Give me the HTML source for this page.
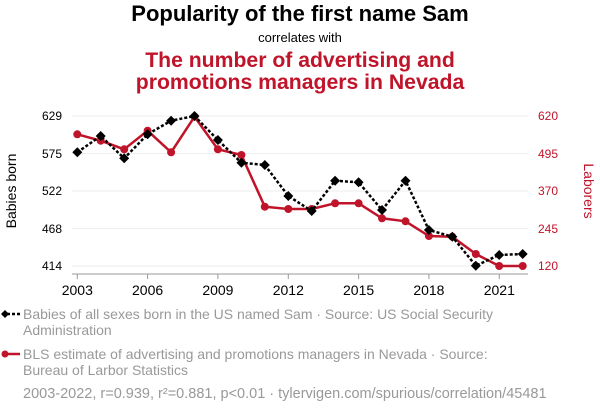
<!DOCTYPE html>
<html><head><meta charset="utf-8"><style>
body{margin:0;width:600px;height:414px;background:#fff;font-family:"Liberation Sans",sans-serif;overflow:hidden}
</style></head><body>
<svg width="600" height="414" xmlns="http://www.w3.org/2000/svg" font-family="Liberation Sans, sans-serif">
<text x="300" y="21" text-anchor="middle" font-size="22" font-weight="bold" fill="#000">Popularity of the first name Sam</text>
<text x="300" y="42" text-anchor="middle" font-size="13" fill="#000">correlates with</text>
<text x="300" y="67" text-anchor="middle" font-size="21.2" font-weight="bold" fill="#c0142a">The number of advertising and</text>
<text x="300" y="89" text-anchor="middle" font-size="21.2" font-weight="bold" fill="#c0142a">promotions managers in Nevada</text>
<g stroke="#eee" stroke-width="1">
<line x1="72" x2="528" y1="116" y2="116"/><line x1="72" x2="528" y1="153.5" y2="153.5"/><line x1="72" x2="528" y1="191" y2="191"/><line x1="72" x2="528" y1="228.5" y2="228.5"/><line x1="72" x2="528" y1="266" y2="266"/>
</g>
<line x1="72" x2="528" y1="274" y2="274" stroke="#999"/>
<g stroke="#999"><line x1="77.3" x2="77.3" y1="274" y2="279"/><line x1="147.6" x2="147.6" y1="274" y2="279"/><line x1="217.9" x2="217.9" y1="274" y2="279"/><line x1="288.3" x2="288.3" y1="274" y2="279"/><line x1="358.6" x2="358.6" y1="274" y2="279"/><line x1="428.9" x2="428.9" y1="274" y2="279"/><line x1="499.3" x2="499.3" y1="274" y2="279"/></g>
<g font-size="14" text-anchor="middle" fill="#000">
<text x="77.3" y="295">2003</text><text x="147.6" y="295">2006</text><text x="217.9" y="295">2009</text><text x="288.3" y="295">2012</text><text x="358.6" y="295">2015</text><text x="428.9" y="295">2018</text><text x="499.3" y="295">2021</text>
</g>
<g font-size="12" text-anchor="end" fill="#000">
<text x="62" y="120">629</text><text x="62" y="158">575</text><text x="62" y="195">522</text><text x="62" y="233">468</text><text x="62" y="270">414</text>
</g>
<g font-size="12" text-anchor="start" fill="#c0142a">
<text x="538" y="120">620</text><text x="538" y="158">495</text><text x="538" y="195">370</text><text x="538" y="233">245</text><text x="538" y="270">120</text>
</g>
<text transform="translate(16,191) rotate(-90)" text-anchor="middle" font-size="14" fill="#000">Babies born</text>
<text transform="translate(584,191) rotate(90)" text-anchor="middle" font-size="14" fill="#c0142a">Laborers</text>
<g fill="#c0142a">
<polyline fill="none" stroke="#c0142a" stroke-width="2.5" points="77.3,134.3 100.7,140.7 124.2,149.3 147.6,130.7 171.1,152.3 194.5,116.7 217.9,149.3 241.4,155 264.8,206.7 288.3,209 311.7,209 335.1,203.3 358.6,203.3 382,218.3 405.5,221.3 428.9,236 452.3,236.7 475.8,254 499.2,266 522.7,266"/>
<circle cx="77.3" cy="134.3" r="4"/><circle cx="100.7" cy="140.7" r="4"/><circle cx="124.2" cy="149.3" r="4"/><circle cx="147.6" cy="130.7" r="4"/><circle cx="171.1" cy="152.3" r="4"/><circle cx="194.5" cy="116.7" r="4"/><circle cx="217.9" cy="149.3" r="4"/><circle cx="241.4" cy="155" r="4"/><circle cx="264.8" cy="206.7" r="4"/><circle cx="288.3" cy="209" r="4"/><circle cx="311.7" cy="209" r="4"/><circle cx="335.1" cy="203.3" r="4"/><circle cx="358.6" cy="203.3" r="4"/><circle cx="382" cy="218.3" r="4"/><circle cx="405.5" cy="221.3" r="4"/><circle cx="428.9" cy="236" r="4"/><circle cx="452.3" cy="236.7" r="4"/><circle cx="475.8" cy="254" r="4"/><circle cx="499.2" cy="266" r="4"/><circle cx="522.7" cy="266" r="4"/>
</g>
<polyline fill="none" stroke="#000" stroke-width="2.5" stroke-dasharray="3,2" points="77.3,152.3 100.7,136 124.2,158.3 147.6,134.3 171.1,120.7 194.5,116 217.9,140 241.4,162.7 264.8,165 288.3,196 311.7,211 335.1,180.7 358.6,182.3 382,210 405.5,180.7 428.9,230 452.3,236.7 475.8,265.7 499.2,255 522.7,254"/>
<g fill="#000">
<path d="M77.3,147.3l5,5-5,5-5-5z"/><path d="M100.7,131l5,5-5,5-5-5z"/><path d="M124.2,153.3l5,5-5,5-5-5z"/><path d="M147.6,129.3l5,5-5,5-5-5z"/><path d="M171.1,115.7l5,5-5,5-5-5z"/><path d="M194.5,111l5,5-5,5-5-5z"/><path d="M217.9,135l5,5-5,5-5-5z"/><path d="M241.4,157.7l5,5-5,5-5-5z"/><path d="M264.8,160l5,5-5,5-5-5z"/><path d="M288.3,191l5,5-5,5-5-5z"/><path d="M311.7,206l5,5-5,5-5-5z"/><path d="M335.1,175.7l5,5-5,5-5-5z"/><path d="M358.6,177.3l5,5-5,5-5-5z"/><path d="M382,205l5,5-5,5-5-5z"/><path d="M405.5,175.7l5,5-5,5-5-5z"/><path d="M428.9,225l5,5-5,5-5-5z"/><path d="M452.3,231.7l5,5-5,5-5-5z"/><path d="M475.8,260.7l5,5-5,5-5-5z"/><path d="M499.2,250l5,5-5,5-5-5z"/><path d="M522.7,249l5,5-5,5-5-5z"/>
</g>
<line x1="2" x2="20" y1="314" y2="314" stroke="#000" stroke-width="2.5" stroke-dasharray="3,2"/>
<path d="M5,310l4,4-4,4-4-4z" fill="#000"/>
<text x="23" y="319" font-size="14" fill="#999">Babies of all sexes born in the US named Sam · Source: US Social Security</text>
<text x="23" y="335" font-size="14" fill="#999">Administration</text>
<line x1="2" x2="20" y1="354" y2="354" stroke="#c0142a" stroke-width="2.5"/>
<circle cx="5" cy="354" r="3.5" fill="#c0142a"/>
<text x="23" y="359" font-size="14" fill="#999">BLS estimate of advertising and promotions managers in Nevada · Source:</text>
<text x="23" y="375" font-size="14" fill="#999">Bureau of Larbor Statistics</text>
<text x="23" y="398" font-size="14.5" fill="#999">2003-2022, r=0.939, r²=0.881, p&lt;0.01 · tylervigen.com/spurious/correlation/45481</text>
</svg>
</body></html>
